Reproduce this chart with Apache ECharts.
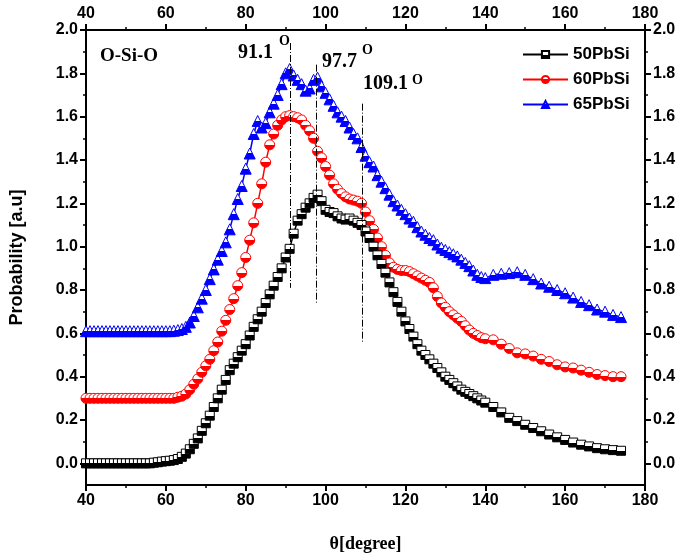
<!DOCTYPE html>
<html>
<head>
<meta charset="utf-8">
<script src="https://cdn.jsdelivr.net/npm/echarts@6/dist/echarts.min.js"></script>
<style>html,body{margin:0;padding:0;background:#fff}#c{width:685px;height:558px}</style>
</head>
<body>
<div id="c"></div>
<script>
var theta = [40,41,42,43,44,45,46,47,48,49,
50,51,52,53,54,55,56,57,58,59,
60,61,62,63,64,65,66,67,68,69,
70,71,72,73,74,75,76,77,78,79,
80,81,82,83,84,85,86,87,88,89,
90,91,92,93,94,95,96,97,98,99,
100,101,102,103,104,105,106,107,108,109,
110,111,112,113,114,115,116,117,118,119,
120,121,122,123,124,125,126,127,128,129,
130,131,132,133,134,135,136,137,138,139,
140,142,144,146,148,150,152,154,156,158,160,162,164,166,168,170,172,174];

var pb50 = [0,0,0,0,0,0,0,0,0,0,
0,0,0,0,0,0,0,0.003,0.005,0.008,
0.01,0.012,0.015,0.02,0.03,0.045,0.065,0.09,0.115,0.15,
0.185,0.22,0.26,0.30,0.34,0.385,0.43,0.46,0.49,0.52,
0.55,0.59,0.63,0.665,0.70,0.74,0.78,0.82,0.86,0.90,
0.95,0.99,1.06,1.12,1.15,1.18,1.20,1.225,1.24,1.21,
1.17,1.16,1.155,1.14,1.13,1.125,1.13,1.12,1.11,1.10,
1.07,1.04,1.00,0.96,0.92,0.88,0.835,0.79,0.745,0.70,
0.655,0.62,0.585,0.55,0.52,0.50,0.48,0.46,0.44,0.42,
0.40,0.385,0.37,0.355,0.34,0.33,0.32,0.31,0.30,0.29,
0.28,0.26,0.235,0.21,0.195,0.178,0.163,0.148,0.133,0.12,0.108,0.096,0.086,0.078,0.07,0.065,0.061,0.058];

var pb60 = [0.30,0.30,0.30,0.30,0.30,0.30,0.30,0.30,0.30,0.30,
0.30,0.30,0.30,0.30,0.30,0.30,0.30,0.30,0.30,0.30,
0.30,0.30,0.30,0.305,0.31,0.32,0.34,0.365,0.39,0.42,
0.45,0.48,0.52,0.56,0.61,0.66,0.71,0.76,0.82,0.88,
0.95,1.03,1.11,1.20,1.29,1.39,1.47,1.52,1.56,1.585,
1.60,1.605,1.60,1.595,1.585,1.56,1.535,1.50,1.44,1.41,
1.37,1.33,1.29,1.265,1.245,1.23,1.22,1.215,1.21,1.20,
1.16,1.12,1.08,1.04,1.00,0.96,0.925,0.905,0.895,0.89,
0.89,0.885,0.875,0.865,0.855,0.845,0.835,0.81,0.77,0.74,
0.72,0.70,0.685,0.67,0.655,0.635,0.615,0.60,0.59,0.58,
0.575,0.57,0.55,0.53,0.51,0.505,0.495,0.48,0.47,0.455,0.445,0.44,0.43,0.42,0.41,0.405,0.40,0.40];

var pb65 = [0.61,0.61,0.61,0.61,0.61,0.61,0.61,0.61,0.61,0.61,
0.61,0.61,0.61,0.61,0.61,0.61,0.61,0.61,0.61,0.61,
0.61,0.61,0.612,0.615,0.62,0.63,0.65,0.68,0.72,0.76,
0.80,0.85,0.895,0.94,0.98,1.02,1.08,1.15,1.22,1.28,
1.36,1.43,1.52,1.58,1.55,1.57,1.62,1.66,1.70,1.75,
1.80,1.82,1.79,1.77,1.75,1.72,1.73,1.77,1.78,1.74,
1.71,1.68,1.65,1.62,1.60,1.58,1.55,1.52,1.50,1.46,
1.42,1.39,1.37,1.33,1.30,1.27,1.24,1.21,1.19,1.17,
1.15,1.13,1.115,1.09,1.07,1.055,1.04,1.03,1.01,0.995,
0.985,0.975,0.965,0.955,0.94,0.925,0.91,0.89,0.87,0.86,
0.855,0.87,0.875,0.878,0.882,0.87,0.85,0.83,0.815,0.80,0.785,0.765,0.745,0.73,0.71,0.70,0.685,0.675];

var seriesNames = ['50PbSi','60PbSi','65PbSi'];
var yMajor = [0,0.2,0.4,0.6,0.8,1.0,1.2,1.4,1.6,1.8,2.0];
var yMinor = [0.1,0.3,0.5,0.7,0.9,1.1,1.3,1.5,1.7,1.9];
var peakAngles = [91.1, 97.7, 109.1];
var peakLineTops = [1.94, 1.84, 1.66];
var peakLineBottoms = [0.81, 0.74, 0.56];

function pairs(vals){ return theta.map(function(t,i){ return [t, vals[i]]; }); }
function half(c){
  return {type:'linear',x:0,y:0,x2:0,y2:1,colorStops:[
    {offset:0,color:'#fff'},{offset:0.5,color:'#fff'},{offset:0.5,color:c},{offset:1,color:c}]};
}
var SANS = 'Liberation Sans, Arial, sans-serif';
var SERIF = 'Liberation Serif, Times New Roman, serif';
var lblStyle = {color:'#000', fontFamily:SANS, fontWeight:'bold', fontSize:16};

function xAx(pos, withName){
  var a = {type:'value', position:pos, min:40, max:180, interval:20,
    axisLine:{show:true, onZero:false, lineStyle:{color:'#000', width:2}},
    axisTick:{show:true, inside:false, length:6, lineStyle:{color:'#000', width:2}},
    minorTick:{show:true, splitNumber:2, length:3, lineStyle:{color:'#000', width:1.5}},
    splitLine:{show:false}, minorSplitLine:{show:false},
    axisLabel:Object.assign({margin:8}, lblStyle)};
  if (withName){
    a.name = 'θ[degree]'; a.nameLocation='middle'; a.nameGap = 50;
    a.nameTextStyle = {color:'#000', fontFamily:SERIF, fontWeight:'bold', fontSize:18};
  }
  return a;
}
function yAx(pos, major, withName){
  var a = {type:'value', position:pos, min:-0.1, max:2.0,
    splitLine:{show:false},
    axisLine:{show:major, onZero:false, lineStyle:{color:'#000', width:2}},
    axisTick:{show:true, inside:false, length: major?6:3, customValues: major?yMajor:yMinor,
      lineStyle:{color:'#000', width: major?2:1.5}},
    axisLabel: major ? Object.assign({margin:8, customValues:yMajor,
      formatter:function(v){return v.toFixed(1);}}, lblStyle) : {show:false}};
  if (withName){
    a.name = 'Probability [a.u]'; a.nameLocation='middle'; a.nameGap = 60;
    a.nameTextStyle = {color:'#000', fontFamily:SANS, fontWeight:'bold', fontSize:18};
  }
  return a;
}

var peakLines = peakAngles.map(function(a,i){
  return [{coord:[a, peakLineTops[i]]},{coord:[a, peakLineBottoms[i]]}];
});

function mkSeries(name, vals, color, symbol, size){
  return {name:name, type:'line', data:pairs(vals), xAxisIndex:0, yAxisIndex:0,
    symbol:symbol, symbolSize:size, showSymbol:true,
    lineStyle:{color:color, width:1.5},
    itemStyle:{color:half(color), borderColor:color, borderWidth:1},
    emphasis:{disabled:true}, animation:false};
}

var s50 = mkSeries(seriesNames[0], pb50, '#000000', 'rect', 9);
var s60 = mkSeries(seriesNames[1], pb60, '#ff0000', 'circle', 10);
var s65 = mkSeries(seriesNames[2], pb65, '#0000ff', 'triangle', 11);
s65.markLine = {silent:true, symbol:'none', animation:false, label:{show:false},
  lineStyle:{color:'#000', width:1, type:[7,2,1,2]}, data:peakLines};

var chart = echarts.init(document.getElementById('c'));
chart.setOption({
  backgroundColor:'#fff',
  animation:false,
  grid:{left:77, right:40, top:30, bottom:65, containLabel:false},
  xAxis:[xAx('bottom', true), xAx('top', false)],
  yAxis:[yAx('left', true, true), yAx('left', false, false), yAx('right', true, false), yAx('right', false, false)],
  legend:{data:seriesNames, orient:'vertical', left:517, top:41, itemWidth:45, itemHeight:9, itemGap:8,
    textStyle:{color:'#000', fontFamily:SANS, fontWeight:'bold', fontSize:17}},
  series:[s65, s60, s50],
  graphic:[
    {type:'text', left:100, top:47, style:{text:'O-Si-O', fill:'#000', font:'bold 19px '+SERIF}},
    {type:'text', left:238, top:43, style:{text:'91.1', fill:'#000', font:'bold 20px '+SERIF}},
    {type:'text', left:279, top:34, style:{text:'O', fill:'#000', font:'bold 14px '+SERIF}},
    {type:'text', left:322, top:52, style:{text:'97.7', fill:'#000', font:'bold 20px '+SERIF}},
    {type:'text', left:362, top:43, style:{text:'O', fill:'#000', font:'bold 14px '+SERIF}},
    {type:'text', left:363, top:74, style:{text:'109.1', fill:'#000', font:'bold 20px '+SERIF}},
    {type:'text', left:412, top:73, style:{text:'O', fill:'#000', font:'bold 14px '+SERIF}}
  ]
});
</script>
</body>
</html>
